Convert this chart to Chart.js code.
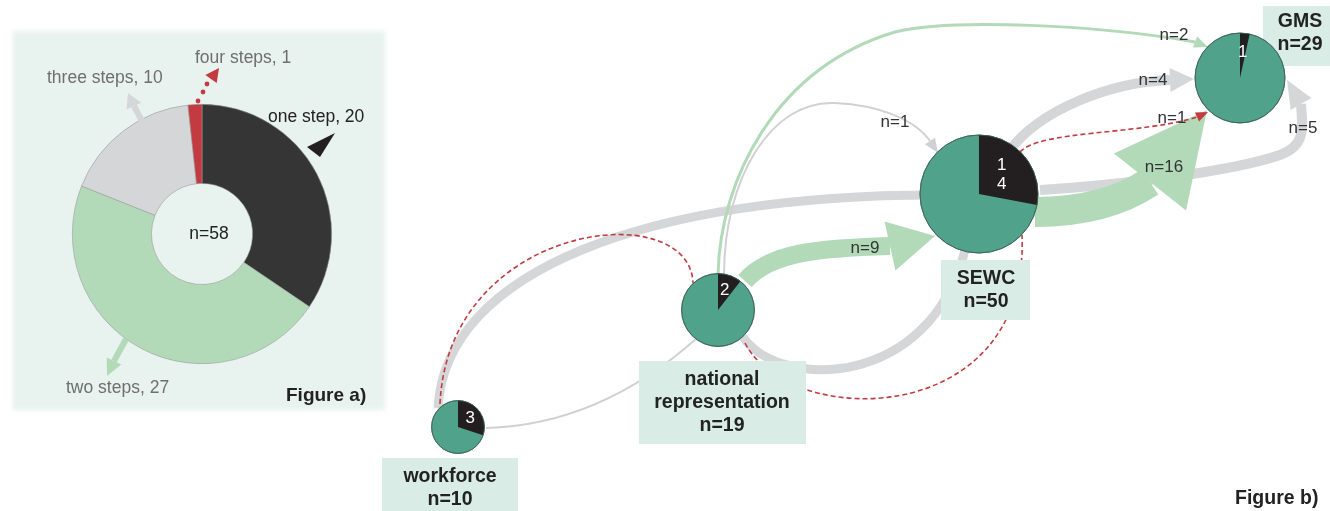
<!DOCTYPE html>
<html><head><meta charset="utf-8">
<script src="https://cdn.jsdelivr.net/npm/chart.js@4.4.1/dist/chart.umd.min.js"></script>
<style>
html,body{margin:0;padding:0;background:#fff;width:1330px;height:511px;overflow:hidden}
#panel{position:absolute;left:13px;top:31px;width:372px;height:379px;background:#e8f2ee;filter:blur(2px)}
#cA{position:absolute;left:0;top:0;width:400px;height:511px}
#cB{position:absolute;left:0;top:0;width:1330px;height:511px}
</style></head><body>
<div id="panel"></div>
<canvas id="cA" width="400" height="511"></canvas>
<canvas id="cB" width="1330" height="511"></canvas>
<script>
// ---------- DATA ----------
const stepCategories = ['one step', 'two steps', 'three steps', 'four steps'];
const stepValues = [20, 27, 10, 1];

const nodeNames = ['workforce', 'national representation', 'SEWC', 'GMS'];
const nodeTotals = [10, 19, 50, 29];
const nodeOneStep = [3, 2, 14, 1];

const edgeFrom   = [0, 0, 0, 1, 1, 1, 2, 2, 2, 2, 1, 1];
const edgeTo     = [2, 1, 1, 2, 2, 2, 3, 3, 3, 3, 3, 2];
const edgeCounts = [null, null, null, null, null, 9, 16, 4, 1, 5, 2, 1];

// ---------- STYLE / LAYOUT ----------
const FONT = '"Liberation Sans", Arial, Helvetica, sans-serif';
const C = {gray:'#d5d6d8', thin:'#d0d1d3', green:'#b2dab8', red:'#c33b40', teal:'#50a28a',
           dark:'#231f20', box:'#d9ece6', text:'#222', label:'#333', soft:'#6f6f6f'};
const stepColors = ['#353535', C.green, C.gray, C.red];

const layoutA = {
  padding:{left:72, top:104, right:68, bottom:147},
  labels:[{x:268,y:117,color:'#222'},{x:66,y:388,color:C.soft},{x:47,y:78,color:C.soft},{x:195,y:58,color:C.soft}],
  centerDx:7,
  arrows:[
    {kind:'tri', pts:[[307,147],[335,133],[320,157]], color:C.dark},
    {kind:'line', from:[126,339], base:[114,361], tip:[107,376], w:6, hw:8, color:C.green},
    {kind:'line', from:[142,121], base:[134,106], tip:[128,93], w:6, hw:8, color:C.gray},
    {kind:'dots', dots:[[198,101],[203,92],[207,84]], base:[211,79], tip:[219,68], hw:7, color:C.red}
  ],
  title:{x:286, y:396, text:'Figure a)'}
};

const nodeLayout = [
  {x:458, y:427, box:[382,458,136,60], tx:450, ty:477, stack:false},
  {x:718, y:310, box:[639,361,167,83], tx:722, ty:380, stack:false},
  {x:979, y:194, box:[941,260,89,60], tx:986, ty:279, stack:true},
  {x:1240, y:78, box:[1263,6,80,60], tx:1300, ty:22, stack:false}
];
const radiusPerSqrt = 8.35;
const lineGap = 23;

// edge geometry (x,y in chart units) and style, aligned with edge arrays
const edgeLayout = [
  {pts:[[438,408],[445,270],[650,195],[935,195]], w:9, color:C.gray},
  {pts:[[486,428],[562,426],[632,396],[697,338]], w:2, color:C.thin},
  {pts:[[440,404],[448,222],[690,195],[693,283]], w:1.6, color:C.red, dash:[5,3]},
  {pts:[[743,337],[780,390],[930,390],[965,250]], w:9, color:C.gray},
  {pts:[[745,343],[790,430],[1030,430],[1022,235]], w:1.6, color:C.red, dash:[5,3]},
  {pts:[[745,281],[770,252],[820,248],[890,246]], tip:[935,236], hw:25, w:18, color:C.green, lab:[865,248]},
  {pts:[[1035,212],[1080,212],[1120,202],[1150,182]], tip:[1207,110], hw:46, w:30, color:C.green, lab:[1164,167]},
  {pts:[[1010,150],[1040,110],[1110,82],[1170,80]], tip:[1194,79], hw:12, w:10, color:C.gray, lab:[1153,80]},
  {pts:[[1020,152],[1040,130],[1140,135],[1197,117]], tip:[1208,112], hw:5, w:1.6, color:C.red, dash:[5,3], lab:[1172,118]},
  {pts:[[1040,190],[1120,185],[1230,172],[1280,155],[1305,146],[1303,130],[1301,104]], tip:[1287,80], hw:12, w:10, color:C.gray, lab:[1303,128]},
  {pts:[[718,275],[720,180],[775,68],[895,32],[950,18],[1100,25],[1195,42]], tip:[1208,47], hw:6, w:3, color:C.green, lab:[1174,35]},
  {pts:[[724,275],[724,180],[770,100],[835,103],[880,105],[915,120],[930,141]], tip:[938,153], hw:6, w:2, color:C.thin, lab:[895,122]}
];
const edgeOrder = [0,3,7,9,1,11,5,6,10,2,4,8];

// ---------- FIGURE A ----------
function head(ctx, b, t, hw, color){
  const dx=t[0]-b[0], dy=t[1]-b[1], L=Math.hypot(dx,dy)||1;
  const px=-dy/L*hw, py=dx/L*hw;
  ctx.beginPath(); ctx.moveTo(b[0]+px,b[1]+py); ctx.lineTo(t[0],t[1]); ctx.lineTo(b[0]-px,b[1]-py);
  ctx.closePath(); ctx.fillStyle=color; ctx.fill();
}
const figAPlugin = {
  id:'figA',
  afterDraw(chart){
    const ctx = chart.ctx;
    const arc = chart.getDatasetMeta(0).data[0];
    ctx.save();
    layoutA.arrows.forEach(a=>{
      if(a.kind==='tri'){
        ctx.beginPath(); ctx.moveTo(...a.pts[0]); ctx.lineTo(...a.pts[1]); ctx.lineTo(...a.pts[2]);
        ctx.closePath(); ctx.fillStyle=a.color; ctx.fill();
      } else if(a.kind==='line'){
        ctx.beginPath(); ctx.moveTo(...a.from); ctx.lineTo(...a.base);
        ctx.strokeStyle=a.color; ctx.lineWidth=a.w; ctx.stroke();
        head(ctx,a.base,a.tip,a.hw,a.color);
      } else {
        ctx.fillStyle=a.color;
        a.dots.forEach(d=>{ctx.beginPath(); ctx.arc(d[0],d[1],2.4,0,Math.PI*2); ctx.fill();});
        head(ctx,a.base,a.tip,a.hw,a.color);
      }
    });
    ctx.font = '17.5px ' + FONT; ctx.textBaseline='middle'; ctx.textAlign='left';
    stepCategories.forEach((c,i)=>{
      const L = layoutA.labels[i];
      ctx.fillStyle=L.color; ctx.fillText(c + ', ' + stepValues[i], L.x, L.y);
    });
    const total = stepValues.reduce((a,b)=>a+b,0);
    ctx.fillStyle='#222'; ctx.textAlign='center';
    ctx.fillText('n=' + total, arc.x + layoutA.centerDx, arc.y);
    ctx.font = 'bold 19px ' + FONT; ctx.textAlign='left';
    ctx.fillText(layoutA.title.text, layoutA.title.x, layoutA.title.y);
    ctx.restore();
  }
};
new Chart(document.getElementById('cA'), {
  type:'doughnut',
  data:{labels:stepCategories, datasets:[{data:stepValues, backgroundColor:stepColors,
        borderColor:'rgba(150,150,150,0.8)', borderWidth:0.7}]},
  options:{responsive:false, animation:false, events:[], cutout:'39%',
    layout:{padding:layoutA.padding},
    plugins:{legend:{display:false}, tooltip:{enabled:false}}},
  plugins:[figAPlugin]
});

// ---------- FIGURE B ----------
const netPlugin = {
  id:'net',
  beforeDatasetsDraw(chart){
    const ctx=chart.ctx, xs=chart.scales.x, ys=chart.scales.y;
    const P = p=>[xs.getPixelForValue(p[0]), ys.getPixelForValue(p[1])];
    ctx.save();
    edgeOrder.forEach(i=>{
      const e=edgeLayout[i], pts=e.pts.map(P);
      ctx.beginPath(); ctx.moveTo(pts[0][0],pts[0][1]);
      for(let k=1;k+2<pts.length;k+=3) ctx.bezierCurveTo(pts[k][0],pts[k][1],pts[k+1][0],pts[k+1][1],pts[k+2][0],pts[k+2][1]);
      ctx.setLineDash(e.dash||[]); ctx.lineWidth=e.w; ctx.strokeStyle=e.color; ctx.lineCap='butt'; ctx.stroke();
      ctx.setLineDash([]);
      if(e.tip) head(ctx, pts[pts.length-1], P(e.tip), e.hw, e.color);
    });
    nodeLayout.forEach(n=>{
      const a=P([n.box[0],n.box[1]]), b=P([n.box[0]+n.box[2], n.box[1]+n.box[3]]);
      ctx.fillStyle=C.box; ctx.fillRect(a[0],a[1],b[0]-a[0],b[1]-a[1]);
    });
    ctx.restore();
  },
  afterDatasetsDraw(chart){
    const ctx=chart.ctx, xs=chart.scales.x, ys=chart.scales.y;
    const P = p=>[xs.getPixelForValue(p[0]), ys.getPixelForValue(p[1])];
    const els=chart.getDatasetMeta(0).data;
    ctx.save();
    els.forEach((el,i)=>{
      const r=el.options.radius, a0=-Math.PI/2, a1=a0+2*Math.PI*nodeOneStep[i]/nodeTotals[i];
      ctx.beginPath(); ctx.moveTo(el.x,el.y); ctx.arc(el.x,el.y,r,a0,a1); ctx.closePath();
      ctx.fillStyle=C.dark; ctx.fill();
      ctx.beginPath(); ctx.arc(el.x,el.y,r,0,Math.PI*2); ctx.lineWidth=0.8; ctx.strokeStyle='#3d6458'; ctx.stroke();
      const mid=(a0+a1)/2, d=r*(nodeLayout[i].stack?0.5:0.57);
      const lx=el.x+Math.cos(mid)*d, ly=el.y+Math.sin(mid)*d;
      ctx.fillStyle='#fff'; ctx.font='17px '+FONT; ctx.textAlign='center'; ctx.textBaseline='middle';
      const s=String(nodeOneStep[i]);
      if(nodeLayout[i].stack){ [...s].forEach((ch,k)=>ctx.fillText(ch, lx, ly+(k-(s.length-1)/2)*19)); }
      else ctx.fillText(s, lx, ly);
      // box text
      const L=nodeLayout[i], t=P([L.tx,L.ty]);
      const lines=nodeNames[i].split(' ').concat(['n=' + nodeTotals[i]]);
      ctx.fillStyle=C.text; ctx.font='bold 19.5px '+FONT;
      lines.forEach((ln,k)=>ctx.fillText(ln, t[0], t[1]+k*lineGap));
    });
    ctx.font='17px '+FONT; ctx.fillStyle=C.label; ctx.textAlign='center'; ctx.textBaseline='middle';
    edgeCounts.forEach((n,i)=>{
      if(n==null) return;
      const p=P(edgeLayout[i].lab);
      ctx.fillText('n=' + n, p[0], p[1]);
    });
    ctx.font='bold 19.5px '+FONT; ctx.fillStyle=C.text; ctx.textAlign='left';
    ctx.fillText('Figure b)', 1235, 499);
    ctx.restore();
  }
};
new Chart(document.getElementById('cB'), {
  type:'bubble',
  data:{labels:nodeNames, datasets:[{
    data:nodeNames.map((n,i)=>({x:nodeLayout[i].x, y:nodeLayout[i].y, r:radiusPerSqrt*Math.sqrt(nodeTotals[i])})),
    backgroundColor:C.teal, borderColor:'#3d6458', borderWidth:0.8, clip:false}]},
  options:{responsive:false, animation:false, events:[],
    layout:{padding:0, autoPadding:false},
    plugins:{legend:{display:false}, tooltip:{enabled:false}},
    scales:{x:{type:'linear', min:0, max:1330, display:false},
            y:{type:'linear', min:0, max:511, reverse:true, display:false}}},
  plugins:[netPlugin]
});
</script>
</body></html>
